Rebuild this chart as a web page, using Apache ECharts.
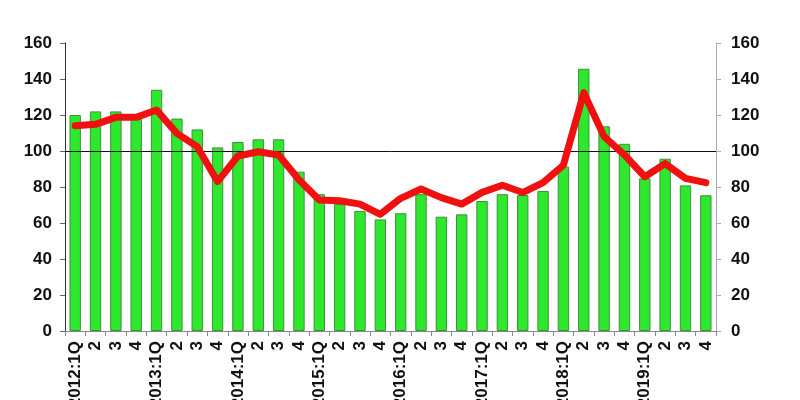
<!DOCTYPE html>
<html><head><meta charset="utf-8">
<script src="https://cdn.jsdelivr.net/npm/echarts@6/dist/echarts.min.js"></script>
<style>html,body{margin:0;padding:0;background:#fff}#c{width:800px;height:400px}</style>
</head><body><div id="c"></div>
<script>
const categories = ['2012:1Q','2','3','4','2013:1Q','2','3','4','2014:1Q','2','3','4','2015:1Q','2','3','4','2016:1Q','2','3','4','2017:1Q','2','3','4','2018:1Q','2','3','4','2019:1Q','2','3','4'];
const barValues = [120,122,122,119,134,118,112,102,105,106.5,106.5,88.5,76,70.5,66.7,62,65.4,76,63.5,64.8,72.2,76,75.5,77.8,91.3,145.7,113.7,104,84.8,95.7,80.9,75.4];
const lineValues = [114,114.8,118.7,118.7,122.8,109.8,102.4,83,97.2,99.6,97.8,84,72.8,72.4,70.5,64.8,73.7,78.9,74.1,70.5,77,81,76.9,82.4,92.2,132.4,108,97.8,85.7,93,84.8,82.4];
const referenceLevel = 100;
const yTicks = {min:0, max:160, interval:20};

const chart = echarts.init(document.getElementById('c'));
const axisLabelY = {color:'#111', fontFamily:'Liberation Sans, Arial', fontWeight:'bold', fontSize:17};
chart.setOption({
  animation:false,
  grid:{left:65, right:84, top:43, bottom:69, containLabel:false, outerBoundsMode:'none'},
  xAxis:{type:'category', data:categories, boundaryGap:true,
    axisLine:{lineStyle:{color:'#888', width:1}},
    axisTick:{show:true, alignWithLabel:false, length:5, lineStyle:{color:'#888'}},
    axisLabel:{rotate:90, interval:0, margin:10, color:'#111', fontFamily:'Liberation Sans, Arial', fontWeight:'bold', fontSize:17}},
  yAxis:[
    {type:'value', min:yTicks.min, max:yTicks.max, interval:yTicks.interval, position:'left',
      axisLine:{show:true, lineStyle:{color:'#333'}}, axisTick:{show:true, length:5, lineStyle:{color:'#666'}},
      splitLine:{show:false}, axisLabel:Object.assign({margin:13}, axisLabelY)},
    {type:'value', min:yTicks.min, max:yTicks.max, interval:yTicks.interval, position:'right',
      axisLine:{show:true, lineStyle:{color:'#aaa'}}, axisTick:{show:true, length:5, lineStyle:{color:'#aaa'}},
      splitLine:{show:false}, axisLabel:Object.assign({margin:15}, axisLabelY)}
  ],
  series:[
    {type:'bar', data:barValues, barWidth:'56%',
      itemStyle:{color:'#2ee82e', borderColor:'#3f8f3f', borderWidth:1},
      markLine:{silent:true, symbol:['none','none'], label:{show:false},
        lineStyle:{color:'#111', width:1, type:'solid'}, data:[{yAxis:referenceLevel}]}},
    {type:'line', data:lineValues, symbol:'none', z:5,
      lineStyle:{color:'#f01010', width:7, cap:'round', join:'round'}}
  ]
});
</script></body></html>
